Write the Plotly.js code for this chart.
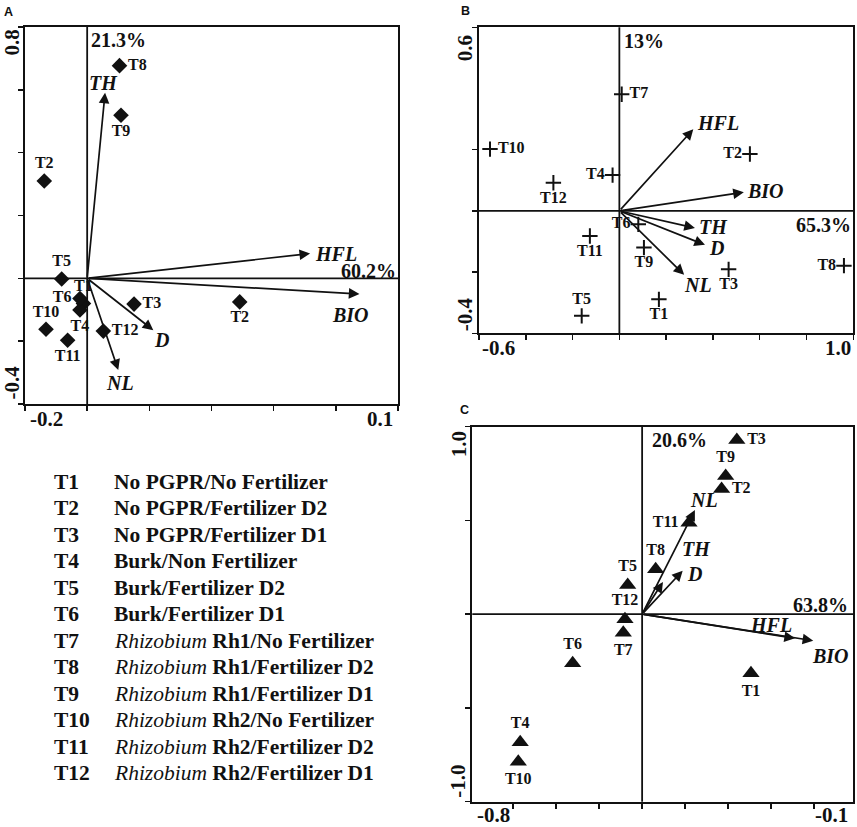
<!DOCTYPE html>
<html><head><meta charset="utf-8">
<script src="https://cdn.plot.ly/plotly-3.0.1.min.js"></script>
<style>html,body{margin:0;padding:0;background:#fff}#chart{width:857px;height:827px}</style>
</head><body><div id="chart"></div>
<script>
// ---------------- DATA ----------------
// Panel A (diamonds)
const aLabels = ['T1','T2','T2','T3','T4','T5','T6','T8','T9','T10','T11','T12'];
const aX = [-0.153, -0.1845, -0.0273, -0.1123, -0.1558, -0.1705, -0.1558, -0.124, -0.1228, -0.1831, -0.1657, -0.137];
const aY = [-0.080, 0.310, -0.075, -0.082, -0.101, -0.002, -0.064, 0.677, 0.519, -0.162, -0.197, -0.168];
const aVars = ['TH','HFL','BIO','D','NL'];
const aVarX = [-0.1356, 0.0293, 0.069, -0.0968, -0.125];
const aVarY = [0.591, 0.079, -0.050, -0.165, -0.292];
const aOrigin = [-0.15, 0];
const aPct = ['21.3%', '60.2%'];
const aTicksX = ['-0.2', '0.1'];
const aTicksY = ['0.8', '-0.4'];

// Panel B (crosses)
const bLabels = ['T1','T2','T3','T4','T5','T6','T7','T8','T9','T10','T11','T12'];
const bX = [0.169, 0.558, 0.467, -0.029, -0.161, 0.081, 0.010, 0.960, 0.105, -0.553, -0.126, -0.282];
const bY = [-0.289, 0.186, -0.191, 0.117, -0.343, -0.044, 0.381, -0.179, -0.120, 0.202, -0.082, 0.092];
const bVars = ['HFL','BIO','TH','D','NL'];
const bVarX = [0.316, 0.532, 0.323, 0.366, 0.277];
const bVarY = [0.267, 0.061, -0.056, -0.111, -0.209];
const bOrigin = [0, 0];
const bPct = ['13%', '65.3%'];
const bTicksX = ['-0.6', '1.0'];
const bTicksY = ['0.6', '-0.4'];

// Panel C (triangles)
const cLabels = ['T1','T2','T3','T4','T5','T6','T7','T8','T9','T10','T11','T12'];
const cX = [-0.288, -0.342, -0.314, -0.712, -0.5145, -0.6156, -0.5226, -0.4631, -0.3345, -0.7155, -0.4019, -0.5195];
const cY = [-0.315, 0.668, 0.929, -0.683, 0.156, -0.262, -0.099, 0.240, 0.737, -0.787, 0.488, -0.027];
const cVars = ['NL','TH','D','HFL','BIO'];
const cVarX = [-0.391, -0.4497, -0.4135, -0.2072, -0.1736];
const cVarY = [0.556, 0.172, 0.232, -0.1285, -0.141];
const cOrigin = [-0.488, 0];
const cPct = ['20.6%', '63.8%'];
const cTicksX = ['-0.8', '-0.1'];
const cTicksY = ['1.0', '-1.0'];

// Legend
const legendCodes = ['T1','T2','T3','T4','T5','T6','T7','T8','T9','T10','T11','T12'];
const legendDesc = [
  '<b>No PGPR/No Fertilizer</b>',
  '<b>No PGPR/Fertilizer D2</b>',
  '<b>No PGPR/Fertilizer D1</b>',
  '<b>Burk/Non Fertilizer</b>',
  '<b>Burk/Fertilizer D2</b>',
  '<b>Burk/Fertilizer D1</b>',
  '<i>Rhizobium</i> <b>Rh1/No Fertilizer</b>',
  '<i>Rhizobium</i> <b>Rh1/Fertilizer D2</b>',
  '<i>Rhizobium</i> <b>Rh1/Fertilizer D1</b>',
  '<i>Rhizobium</i> <b>Rh2/No Fertilizer</b>',
  '<i>Rhizobium</i> <b>Rh2/Fertilizer D2</b>',
  '<i>Rhizobium</i> <b>Rh2/Fertilizer D1</b>'
];

// ---------------- STYLE ----------------
const W = 857, H = 827;
const SERIF = "'Liberation Serif', 'Times New Roman', serif";
const SANS = "'Liberation Sans', Arial, sans-serif";
const INK = '#111';

const aTextPos = ['top center','top center','bottom center','middle right','bottom center','top center','middle left','middle right','bottom center','top center','bottom center','middle right'];
const bTextPos = ['bottom center','middle left','bottom center','middle left','top center','middle left','middle right','middle left','bottom center','middle right','bottom center','bottom center'];
const cTextPos = ['bottom center','middle right','middle right','top center','top center','top center','bottom center','top center','top center','bottom center','middle left','top center'];

// arrow label placement: [xanchor, xshift, yshift]
const aVarPos = [['center',-2,10],['left',3,0],['center',-9,-21],['left',-1,-10],['center',2,-13]];
const bVarPos = [['left',2,6],['left',1,1],['left',2,1],['left',2,-3],['left',-2,-10]];
const cVarPos = [['left',-7,10],['left',17,33],['left',2,-3],['right',-1,13],['left',-3,-15]];

function px2x(p){ return p / W; }
function py2y(p){ return 1 - p / H; }

const traces = [];
const annotations = [];
const shapes = [];

function panel(id, labels, xs, ys, symbol, msize, mline, textPos, vars, vx, vy, varPos, origin, pct, pctCfg, ticksX, ticksY, tickCfg){
  const xa = 'x' + (id === 1 ? '' : id), ya = 'y' + (id === 1 ? '' : id);
  traces.push({
    type: 'scatter', mode: 'markers+text', x: xs, y: ys, text: labels,
    xaxis: xa, yaxis: ya, textposition: textPos, cliponaxis: false,
    textfont: {family: SERIF, size: 16, color: INK, weight: 'bold'},
    marker: {symbol: symbol, size: msize, color: INK, line: mline},
    hoverinfo: 'skip'
  });
  // cross lines
  shapes.push({type:'line', xref: xa, yref: ya + ' domain', x0: origin[0], x1: origin[0], y0: 0, y1: 1, line:{color:INK, width:1.8}});
  shapes.push({type:'line', xref: xa + ' domain', yref: ya, x0: 0, x1: 1, y0: origin[1], y1: origin[1], line:{color:INK, width:1.8}});
  // arrows and their labels
  for (let i = 0; i < vars.length; i++){
    annotations.push({x: vx[i], y: vy[i], ax: origin[0], ay: origin[1], xref: xa, yref: ya, axref: xa, ayref: ya,
      showarrow: true, text: '', arrowhead: 2, arrowsize: 1.25, arrowwidth: 1.7, arrowcolor: INK, standoff: 0});
    annotations.push({x: vx[i], y: vy[i], xref: xa, yref: ya, showarrow: false,
      text: '<b><i>' + vars[i] + '</i></b>', xanchor: varPos[i][0], yanchor: 'middle',
      xshift: varPos[i][1], yshift: varPos[i][2],
      font: {family: SERIF, size: 20, color: INK}});
  }
  // percentage labels
  annotations.push({x: origin[0], xref: xa, y: 1, yref: ya + ' domain', xanchor: 'left', yanchor: 'middle',
    xshift: pctCfg[0], yshift: pctCfg[1], showarrow: false, text: '<b>' + pct[0] + '</b>',
    font: {family: SERIF, size: 20, color: INK}});
  annotations.push({x: 1, xref: xa + ' domain', y: origin[1], yref: ya, xanchor: 'right', yanchor: 'middle',
    xshift: pctCfg[2], yshift: pctCfg[3], showarrow: false, text: '<b>' + pct[1] + '</b>',
    font: {family: SERIF, size: 20, color: INK}});
  // end tick labels
  const tf = {family: SERIF, size: 21, color: INK};
  annotations.push({x: 0, xref: xa + ' domain', y: 0, yref: ya + ' domain', xanchor: 'left', yanchor: 'middle',
    xshift: tickCfg[0], yshift: tickCfg[1], showarrow: false, text: '<b>' + ticksX[0] + '</b>', font: tf});
  annotations.push({x: 1, xref: xa + ' domain', y: 0, yref: ya + ' domain', xanchor: 'right', yanchor: 'middle',
    xshift: tickCfg[2], yshift: tickCfg[1], showarrow: false, text: '<b>' + ticksX[1] + '</b>', font: tf});
  annotations.push({x: 0, xref: xa + ' domain', y: 1, yref: ya + ' domain', xanchor: 'center', yanchor: 'top',
    xshift: tickCfg[3], yshift: tickCfg[4], textangle: -90, showarrow: false, text: '<b>' + ticksY[0] + '</b>', font: tf});
  annotations.push({x: 0, xref: xa + ' domain', y: 0, yref: ya + ' domain', xanchor: 'center', yanchor: 'bottom',
    xshift: tickCfg[3], yshift: tickCfg[5], textangle: -90, showarrow: false, text: '<b>' + ticksY[1] + '</b>', font: tf});
}

panel(1, aLabels, aX, aY, 'diamond', 12, {width: 0}, aTextPos, aVars, aVarX, aVarY, aVarPos, aOrigin,
  aPct, [2, -13, 0, 7], aTicksX, aTicksY, [3, -15, -3, -13.5, -1, 2]);
panel(2, bLabels, bX, bY, 'cross-thin', 11, {width: 2, color: INK}, bTextPos, bVars, bVarX, bVarY, bVarPos, bOrigin,
  bPct, [3, -14, 0, -14], bTicksX, bTicksY, [1, -15, 0, -14, -6, 0]);
panel(3, cLabels, cX, cY, 'triangle-up', 15, {width: 0}, cTextPos, cVars, cVarX, cVarY, cVarPos, cOrigin,
  cPct, [8, -13, -3, 9], cTicksX, cTicksY, [3, -13.5, -3, -13.8, -3, 2]);

// panel letters
[['A', 8.7, 12], ['B', 465, 11.3], ['C', 464, 409.5]].forEach(p => {
  annotations.push({x: px2x(p[1]), y: py2y(p[2]), xref: 'paper', yref: 'paper', xanchor: 'center', yanchor: 'middle',
    showarrow: false, text: '<b>' + p[0] + '</b>', font: {family: SANS, size: 12.5, color: INK}});
});

// legend text block
for (let i = 0; i < legendCodes.length; i++){
  const yy = py2y(481.7 + i * 26.5);
  annotations.push({x: px2x(51.7), y: yy, xref: 'paper', yref: 'paper', xanchor: 'left', yanchor: 'middle',
    showarrow: false, text: '<b>' + legendCodes[i] + '</b>', font: {family: SERIF, size: 21.5, color: INK}});
  annotations.push({x: px2x(111.7), y: yy, xref: 'paper', yref: 'paper', xanchor: 'left', yanchor: 'middle',
    showarrow: false, text: legendDesc[i], font: {family: SERIF, size: 21.5, color: INK}});
}

function axis(domain, range, extra, anchor){
  return Object.assign({domain: domain, range: range, anchor: anchor, showgrid: false, zeroline: false,
    showline: true, mirror: true, linewidth: 2, linecolor: INK, ticks: 'outside', ticklen: 5, tickwidth: 1.5,
    tickcolor: INK, showticklabels: false, fixedrange: true}, extra);
}

const layout = {
  width: W, height: H, margin: {l: 0, r: 0, t: 0, b: 0},
  paper_bgcolor: '#fff', plot_bgcolor: '#fff', showlegend: false,
  xaxis:  axis([px2x(25), px2x(398)], [-0.2, 0.1], {tick0: -0.2, dtick: 0.05}, 'y'),
  yaxis:  axis([py2y(404), py2y(27)], [-0.4, 0.8], {tick0: -0.4, dtick: 0.2}, 'x'),
  xaxis2: axis([px2x(479), px2x(853.3)], [-0.6, 1.0], {tick0: -0.6, dtick: 0.2}, 'y2'),
  yaxis2: axis([py2y(333.3), py2y(27.3)], [-0.4, 0.6], {tickmode: 'array', tickvals: [-0.4, -0.2, 0, 0.2, 0.6]}, 'x2'),
  xaxis3: axis([px2x(472.3), px2x(853.3)], [-0.8, -0.1], {tick0: -0.488, dtick: 0.079}, 'y3'),
  yaxis3: axis([py2y(801.7), py2y(426.7)], [-1.0, 1.0], {tick0: -1.0, dtick: 0.5}, 'x3'),
  shapes: shapes, annotations: annotations
};

Plotly.newPlot('chart', traces, layout, {staticPlot: true, displayModeBar: false});
</script></body></html>
